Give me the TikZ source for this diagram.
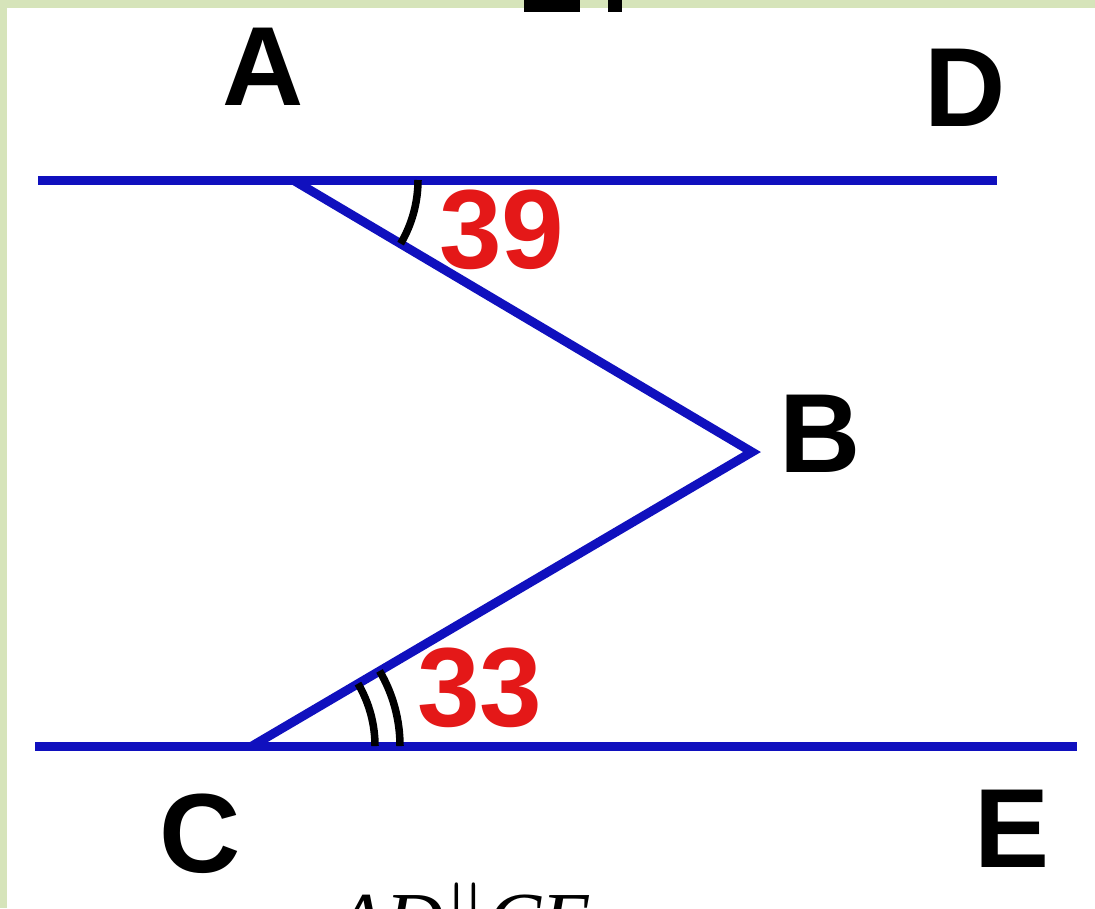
\documentclass[tikz,border=0pt]{standalone}
\usepackage{fontspec}
\setmainfont{Liberation Sans}
\newfontfamily\timesfont{Liberation Serif}
\usetikzlibrary{calc}

\definecolor{lineblue}{RGB}{16,16,190}
\definecolor{numred}{RGB}{228,24,24}
\definecolor{bandgreen}{RGB}{214,228,186}

\begin{document}
\begin{tikzpicture}[
x=0.01cm, y=-0.01cm,
ptlabel/.style={font=\fontsize{32}{36}\selectfont\bfseries, inner sep=0pt},
anglenum/.style={ptlabel, text=numred},
seg/.style={draw=lineblue, line width=0.09cm},
anglemark/.style={draw=black, line width=0.075cm}
]
\useasboundingbox[fill=white] (0,0) rectangle (1095,908);
\fill[bandgreen] (0,0) rectangle (1095,8);
\fill[bandgreen] (0,0) rectangle (7,908);
\fill (524,0) rectangle (580,12);
\fill (608,0) rectangle (622,12);

\coordinate (A) at (293,180);
\coordinate (B) at (752,452);
\coordinate (C) at (252,746);
\coordinate (topl) at (38,180);
\coordinate (topr) at (997,180);
\coordinate (botl) at (35,746);
\coordinate (botr) at (1077,746);

\draw[seg] (topl) -- (topr);
\draw[seg] (botl) -- (botr);
\draw[seg, line join=miter] (A) -- (B) -- (C);

% angle marks
\draw[anglemark] ($(A)+(125,0)$) arc[start angle=0, end angle=30.6, radius=125];
\draw[anglemark] ($(C)+(123,0)$) arc[start angle=0, end angle=-30.5, radius=123];
\draw[anglemark] ($(C)+(148,0)$) arc[start angle=0, end angle=-30.5, radius=148];

\node[ptlabel] (lA) at (263,67) {A};
\node[ptlabel] (lD) at (965,88) {D};
\node[ptlabel] (lB) at (820,434) {B};
\node[ptlabel] (lC) at (200,834) {C};
\node[ptlabel] (lE) at (1012,829) {E};
\node[anglenum] (n39) at (502,230) {39};
\node[anglenum] (n33) at (480,688) {33};

\begin{scope}
\clip (0,0) rectangle (1095,908);
\node[anchor=base west, inner sep=0pt, font=\fontsize{23}{26}\selectfont] (given) at (335,948) {\timesfont\itshape AD$\|$CE};
\end{scope}
\end{tikzpicture}
\end{document}
